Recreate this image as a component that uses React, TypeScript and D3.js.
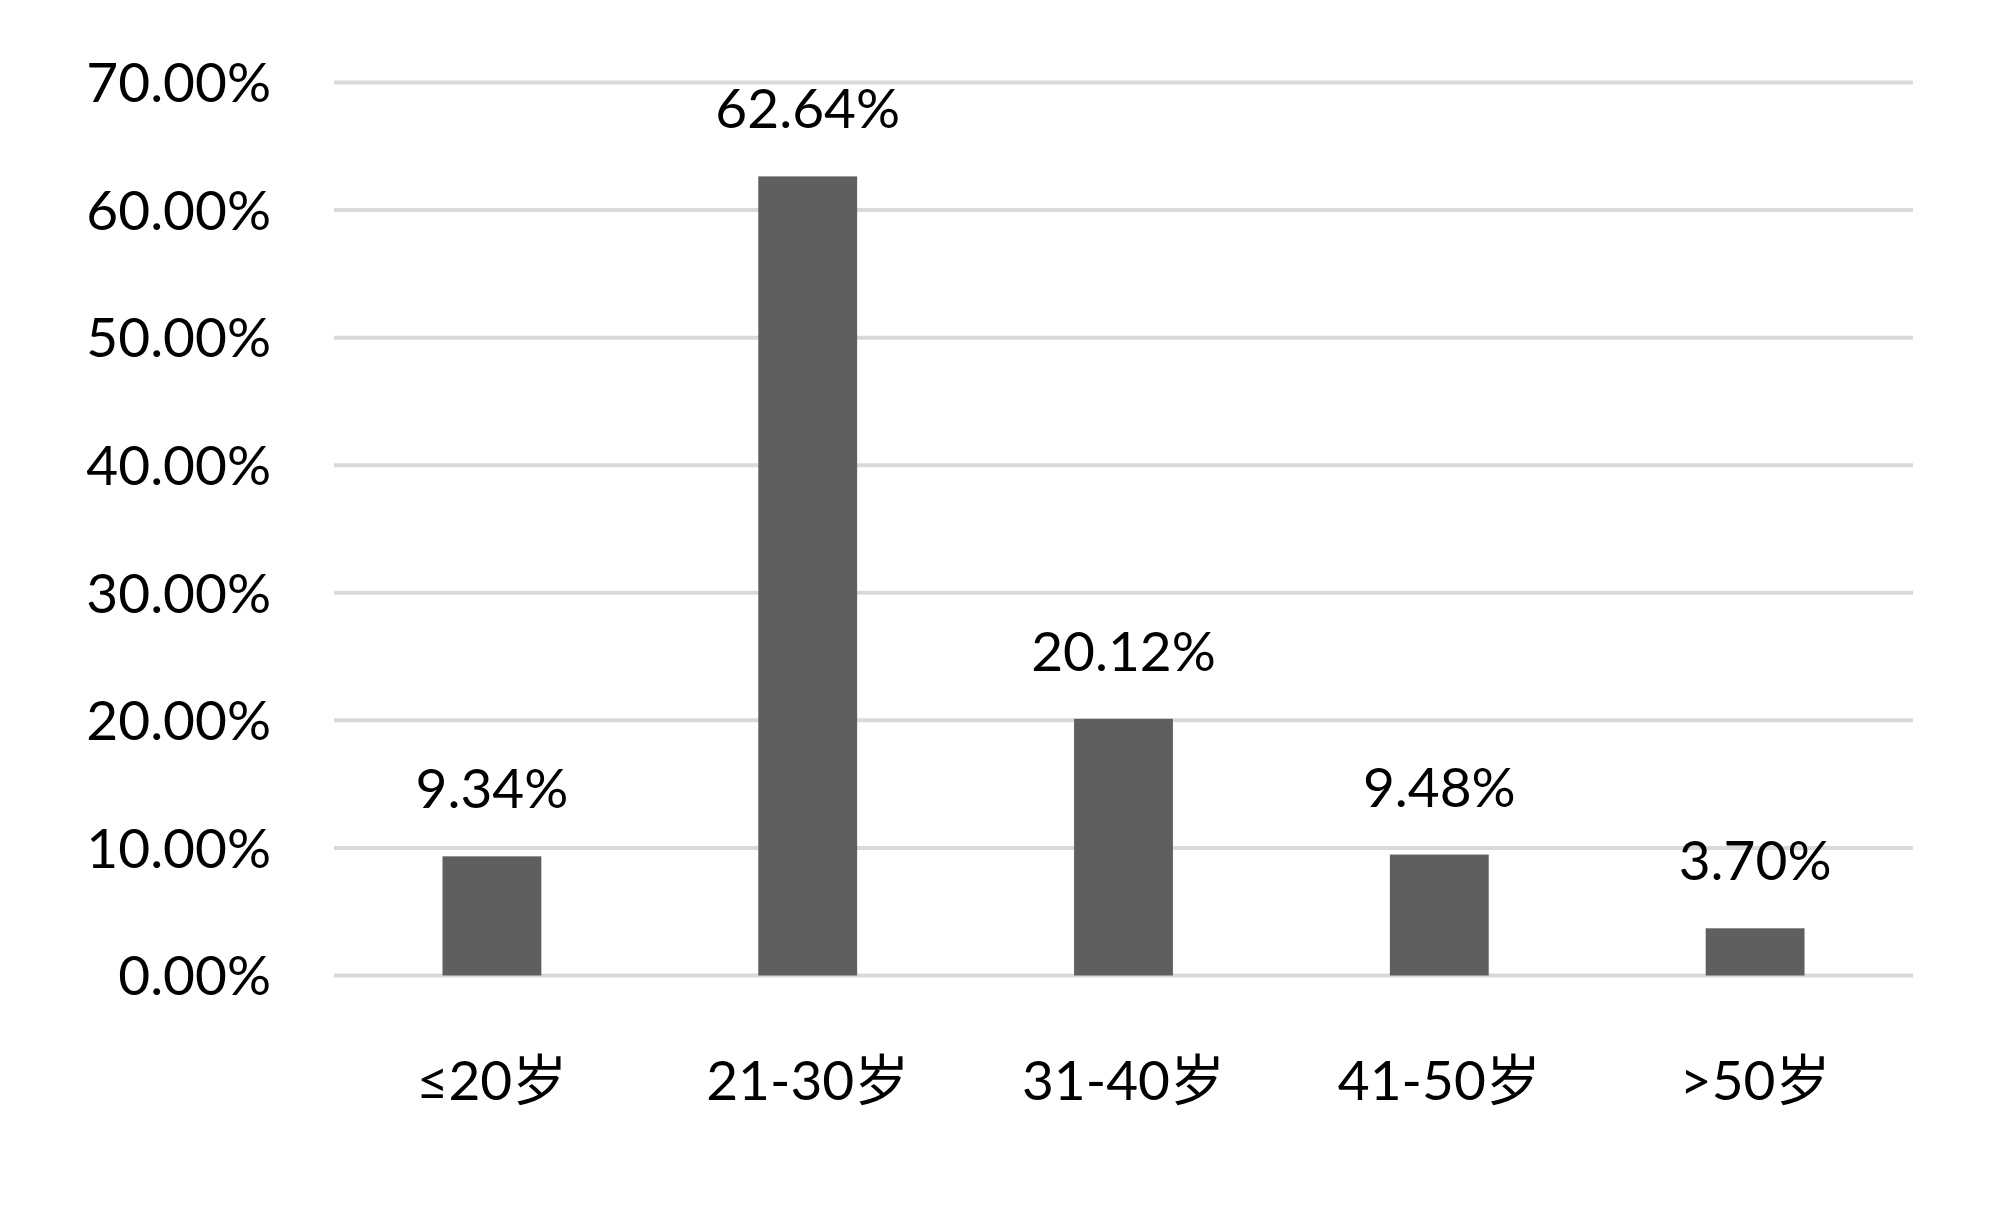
import React from "react";
import * as d3 from "d3";

const categories = ["≤20岁", "21-30岁", "31-40岁", "41-50岁", ">50岁"];
const values = [9.34, 62.64, 20.12, 9.48, 3.7];
const valueLabels = ["9.34%", "62.64%", "20.12%", "9.48%", "3.70%"];
const yTicks = [0, 10, 20, 30, 40, 50, 60, 70];

const W = 2000;
const H = 1210;
const FONT = "Lato, 'Noto Sans CJK SC', sans-serif";

export default function App() {
  const x = d3.scaleBand<string>().domain(categories).range([334, 1913]).paddingInner(0.687).paddingOuter(0.3435);
  const y = d3.scaleLinear().domain([0, 70]).range([975.5, 82.5]);
  return (
    <svg width={W} height={H} style={{ position: "absolute", left: 0, top: 0, background: "#fff" }}>
      <rect x={0} y={0} width={W} height={H} fill="#fff" />
      {yTicks.map((t) => (
        <g key={t}>
          <line x1={334} x2={1913} y1={y(t)} y2={y(t)} stroke="#d9d9d9" strokeWidth={4} />
          <text x={271} y={y(t)} dy="0.36em" textAnchor="end" fontFamily={FONT} fontSize={55} fill="#000">
            {t.toFixed(2) + "%"}
          </text>
        </g>
      ))}
      {categories.map((c, i) => (
        <g key={c}>
          <rect x={x(c)!} y={y(values[i])} width={x.bandwidth()} height={y(0) - y(values[i])} fill="#5f5f5f" />
          <text x={x(c)! + x.bandwidth() / 2} y={y(values[i]) - 48} textAnchor="middle" fontFamily={FONT} fontSize={55} fill="#000">
            {valueLabels[i]}
          </text>
          <text x={x(c)! + x.bandwidth() / 2} y={1100} textAnchor="middle" fontFamily={FONT} fontSize={55} fill="#000">
            {c}
          </text>
        </g>
      ))}
    </svg>
  );
}
